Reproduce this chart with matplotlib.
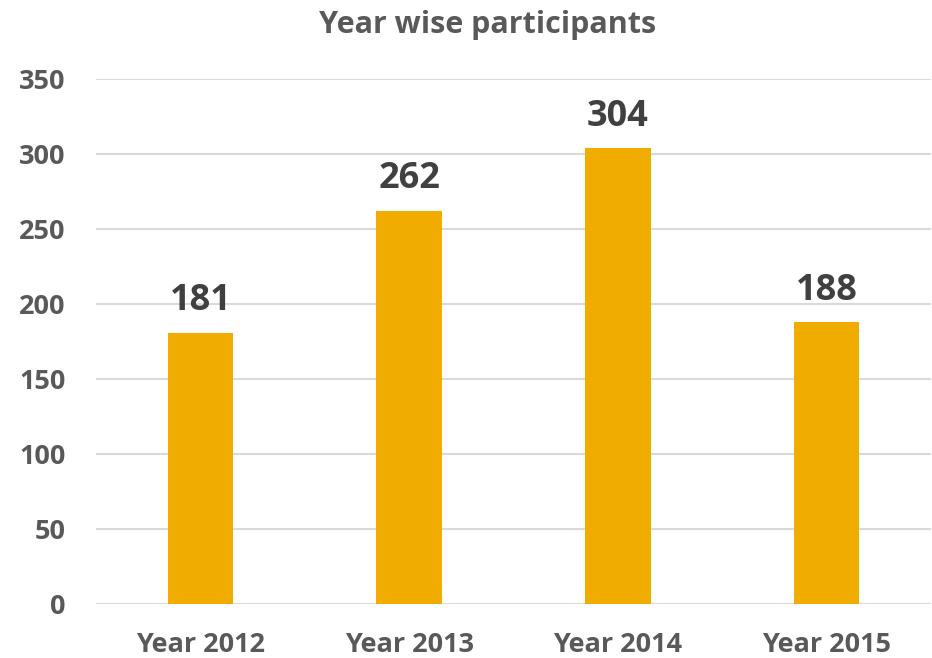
import matplotlib.pyplot as plt

years = ["Year 2012", "Year 2013", "Year 2014", "Year 2015"]
participants = [181, 262, 304, 188]
y_ticks = [0, 50, 100, 150, 200, 250, 300, 350]

bar_color = "#F0AD00"
text_color = "#595959"
label_color = "#404040"

plt.rcParams['font.family'] = ['Open Sans', 'DejaVu Sans']

fig = plt.figure(figsize=(9.32, 6.58), dpi=100)
ax = fig.add_axes([96 / 932, 1 - 604 / 658, 835 / 932, 525 / 658])

x = list(range(len(years)))
bars = ax.bar(x, participants, width=0.313, color=bar_color, zorder=3)

for xi, v in zip(x, participants):
	ax.text(xi, v + 9, str(v), ha="center", va="bottom",
			fontsize=26, fontweight="bold", color=label_color)

ax.set_xlim(-0.5, len(years) - 0.5)
ax.set_ylim(0, 350)
ax.set_yticks(y_ticks)
ax.set_xticks(x)
ax.set_xticklabels(years)

ax.grid(axis="y", color="#D9D9D9", linewidth=1.5, zorder=0)
for s in ax.spines.values():
	s.set_visible(False)
ax.tick_params(axis="both", length=0, labelsize=19.5, labelcolor=text_color)
ax.tick_params(axis="y", pad=22)
ax.tick_params(axis="x", pad=20)
for lab in ax.get_xticklabels() + ax.get_yticklabels():
	lab.set_fontweight("bold")

fig.text(0.523, 1 - 25 / 658, "Year wise participants", ha="center", va="center",
		 fontsize=22, fontweight="bold", color=text_color)

fig.savefig("out.png", dpi=100)
